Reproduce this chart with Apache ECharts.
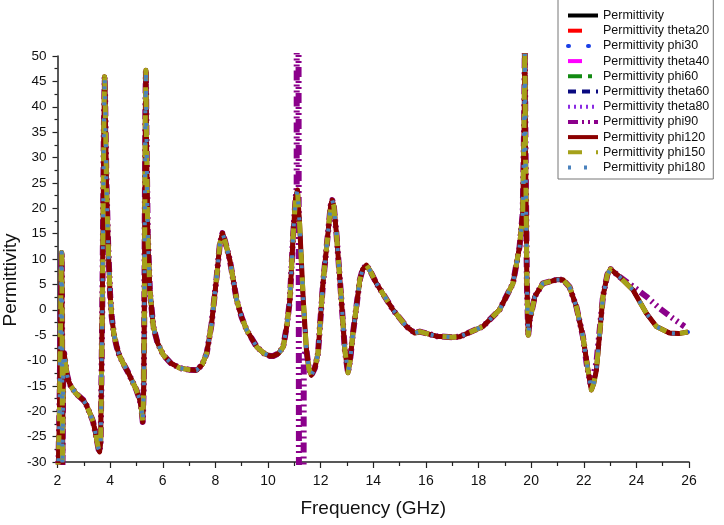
<!DOCTYPE html>
<html>
<head>
<meta charset="utf-8">
<script src="https://cdn.jsdelivr.net/npm/echarts@6/dist/echarts.min.js"></script>
<style>
html,body{margin:0;padding:0;background:#fff;}
#chart{width:724px;height:525px;}
</style>
</head>
<body>
<div id="chart"></div>
<script>
// ---- data ----
const freq = [2.00,2.04,2.08,2.12,2.15,2.16,2.17,2.18,2.19,2.20,2.22,2.25,2.29,2.35,2.42,2.5,2.7,2.98,3.1,3.23,3.35,3.42,3.5,3.56,3.6,3.64,3.68,3.72,3.76,3.79,3.81,3.86,3.93,4.0,4.06,4.15,4.25,4.35,4.5,4.7,4.88,5.0,5.13,5.2,5.24,5.28,5.31,5.34,5.36,5.38,5.43,5.51,5.64,5.8,6.02,6.3,6.65,7.0,7.29,7.5,7.67,7.85,8.05,8.17,8.27,8.37,8.55,8.81,9.0,9.19,9.57,9.85,10.07,10.2,10.4,10.58,10.72,10.83,10.96,11.05,11.12,11.2,11.34,11.46,11.55,11.65,11.78,11.9,12.09,12.28,12.38,12.44,12.5,12.6,12.79,12.92,13.04,13.12,13.23,13.49,13.6,13.74,13.9,14.12,14.75,15.26,15.58,15.77,16.4,17.0,17.29,18.17,18.8,19.31,19.56,19.68,19.73,19.76,19.79,19.84,19.89,19.95,20.14,20.45,20.96,21.21,21.46,21.72,21.97,22.16,22.29,22.38,22.48,22.73,22.9,23.02,23.36,23.87,24.38,24.76,25.26,25.6,25.96];
const permittivity = [-33,-29,-18,0,10,11.3,5,-15,-31,-25,-10,-8.5,-10,-12.5,-14,-15,-16.5,-17.8,-18.8,-20.4,-22,-23.7,-25.8,-27.5,-28.0,-26,-10,10,35,45.9,42,25,12,3,-1.4,-5,-7.3,-9,-10.6,-12.5,-14.5,-15.8,-17.8,-20,-22.1,-15,10,40,47.2,35,15,3.9,-3.3,-6.5,-8.9,-10.5,-11.5,-11.8,-11.9,-10.8,-8.6,-3,6.5,13,15.1,13.5,9.8,1.9,-1.5,-4.0,-7.3,-8.6,-9.1,-9.1,-8.6,-7.3,-3,1.9,15.1,22,23.6,17,1.9,-7.9,-11.5,-12.9,-11.5,-8.6,5.2,15.1,20.5,21.6,20.5,15.1,1.9,-7.9,-12.4,-10,-4.6,5.9,8,8.8,7.5,5.2,0,-3.3,-4.6,-4.3,-5.2,-5.4,-5.3,-3.3,0,5.2,12.4,19.0,35,52,30,5,-5.0,-2,2.6,5.2,5.9,5.9,4.5,0.6,-5.3,-11.9,-15.8,-14.5,-11.9,2.6,7,8.0,6.5,3.9,-0.7,-3.3,-4.6,-4.7,-4.4];
const freqPhi90 = [2.00,2.04,2.08,2.12,2.15,2.16,2.17,2.18,2.19,2.20,2.22,2.25,2.29,2.35,2.42,2.5,2.7,2.98,3.1,3.23,3.35,3.42,3.5,3.56,3.6,3.64,3.68,3.72,3.76,3.79,3.81,3.86,3.93,4.0,4.06,4.15,4.25,4.35,4.5,4.7,4.88,5.0,5.13,5.2,5.24,5.28,5.31,5.34,5.36,5.38,5.43,5.51,5.64,5.8,6.02,6.3,6.65,7.0,7.29,7.5,7.67,7.85,8.05,8.17,8.27,8.37,8.55,8.81,9.0,9.19,9.57,9.85,10.07,10.2,10.4,10.58,10.72,10.83,10.96,11.05,11.09,11.1,11.24,11.36,11.46,11.55,11.65,11.78,11.9,12.09,12.28,12.38,12.44,12.5,12.6,12.79,12.92,13.04,13.12,13.23,13.49,13.6,13.74,13.9,14.12,14.75,15.26,15.58,15.77,16.4,17.0,17.29,18.17,18.8,19.31,19.56,19.68,19.73,19.76,19.79,19.84,19.89,19.95,20.14,20.45,20.96,21.21,21.46,21.72,21.97,22.12,22.25,22.36,22.48,22.73,22.9,23.02,23.36,23.87,24.38,24.88,25.39,25.83];
const permPhi90 = [-33,-29,-18,0,10,11.3,5,-15,-31,-25,-10,-8.5,-10,-12.5,-14,-15,-16.5,-17.8,-18.8,-20.4,-22,-23.7,-25.8,-27.5,-28.0,-26,-10,10,35,45.9,42,25,12,3,-1.4,-5,-7.3,-9,-10.6,-12.5,-14.5,-15.8,-17.8,-20,-22.1,-15,10,40,47.2,35,15,3.9,-3.3,-6.5,-8.9,-10.5,-11.5,-11.8,-11.9,-10.8,-8.6,-3,6.5,13,15.1,13.5,9.8,1.9,-1.5,-4.0,-7.3,-8.6,-9.1,-9.1,-8.6,-7.3,-3,1.9,15.1,22,24,400,-400,-9,-7.9,-11.5,-12.9,-11.5,-8.6,5.2,15.1,20.5,21.6,20.5,15.1,1.9,-7.9,-12.4,-10,-4.6,5.9,8,8.8,7.5,5.2,0,-3.3,-4.6,-4.3,-5.2,-5.4,-5.3,-3.3,0,5.2,12.4,19.0,35,52,30,5,-5.0,-2,2.6,5.2,5.9,5.9,4.5,0.6,-5.3,-11,-14.5,-13,-10.5,2.6,7,8.0,6.5,4.6,2.6,0.3,-1.7,-3.3];
const seriesNames = ['Permittivity','Permittivity theta20','Permittivity phi30','Permittivity theta40','Permittivity phi60','Permittivity theta60','Permittivity theta80','Permittivity phi90','Permittivity phi120','Permittivity phi150','Permittivity phi180'];
const xTicks = [2,4,6,8,10,12,14,16,18,20,22,24,26];
const yTicks = [-30,-25,-20,-15,-10,-5,0,5,10,15,20,25,30,35,40,45,50];
const yTitle = 'Permittivity';

// ---- styles ----
const styles = [
  {color:'#000000', width:4, type:'solid'},
  {color:'#ff0000', width:4, type:[14,16]},
  {color:'#1a3fe6', width:4, type:[1,19], cap:'round'},
  {color:'#ff00ff', width:4, type:[14,16]},
  {color:'#138a13', width:4, type:[14,6,4,6]},
  {color:'#0a0a80', width:4, type:[8,6]},
  {color:'#8a2be2', width:3, type:[2,4]},
  {color:'#8b008b', width:6, type:[10,4,2,4,2,4]},
  {color:'#8b0000', width:5, type:'solid'},
  {color:'#a5a11a', width:5, type:[14,14]},
  {color:'#4a82bd', width:4, type:[3,13]}
];

const basePairs = freq.map((f,i)=>[f, permittivity[i]]);
const phi90Pairs = freqPhi90.map((f,i)=>[f, permPhi90[i]]);

const series = seriesNames.map((name,i)=>({
  name: name,
  type: 'line',
  data: name === 'Permittivity phi90' ? phi90Pairs : basePairs,
  showSymbol: false,
  symbol: 'none',
  smooth: false,
  clip: true,
  animation: false,
  lineStyle: {color: styles[i].color, width: styles[i].width, type: styles[i].type, cap: styles[i].cap || 'butt', join: 'round'},
  itemStyle: {color: styles[i].color},
  emphasis: {disabled: true}
}));

const chart = echarts.init(document.getElementById('chart'), null, {renderer:'canvas'});
chart.setOption({
  backgroundColor: '#ffffff',
  animation: false,
  textStyle: {fontFamily: 'Liberation Sans, Arial, sans-serif'},
  grid: {left: 57.5, right: 35, top: 56, bottom: 63, containLabel: false, outerBoundsMode: 'none'},
  legend: {
    data: seriesNames,
    orient: 'vertical',
    left: 558,
    top: -2,
    padding: [11, 4, 5, 8],
    itemWidth: 30,
    itemHeight: 12,
    itemGap: 2.2,
    borderColor: '#777',
    borderWidth: 1,
    backgroundColor: '#fff',
    itemStyle: {opacity: 0},
    lineStyle: {width: 4},
    textStyle: {fontSize: 12.5, color: '#111', fontFamily: 'Liberation Sans, Arial, sans-serif'}
  },
  graphic: [{
    type: 'text',
    x: 11, y: 280,
    rotation: Math.PI / 2,
    style: {text: yTitle, fontSize: 19, fill: '#111', fontFamily: 'Liberation Sans, Arial, sans-serif', align: 'center', verticalAlign: 'middle'}
  }],
  xAxis: {
    type: 'value',
    min: xTicks[0], max: xTicks[xTicks.length-1], interval: 2,
    name: 'Frequency (GHz)', nameLocation: 'middle', nameGap: 37,
    nameTextStyle: {fontSize: 19, color: '#111'},
    axisLine: {show: true, onZero: false, lineStyle: {color: '#222', width: 1.5}},
    axisTick: {show: true, inside: false, length: 6, lineStyle: {color:'#222', width: 1.2}},
    minorTick: {show: true, splitNumber: 2, length: 4, lineStyle: {color:'#222', width: 1.2}},
    axisLabel: {fontSize: 14, color: '#111', margin: 12},
    splitLine: {show: false}
  },
  yAxis: {
    type: 'value',
    min: yTicks[0], max: yTicks[yTicks.length-1], interval: 5,
    axisLine: {show: true, onZero: false, lineStyle: {color: '#222', width: 1.5}},
    axisTick: {show: true, inside: false, length: 5, lineStyle: {color:'#222', width: 1.2}},
    minorTick: {show: true, splitNumber: 2, length: 3, lineStyle: {color:'#222', width: 1.2}},
    axisLabel: {fontSize: 13.5, color: '#111', margin: 11},
    splitLine: {show: false}
  },
  series: series
});
</script>
</body>
</html>
